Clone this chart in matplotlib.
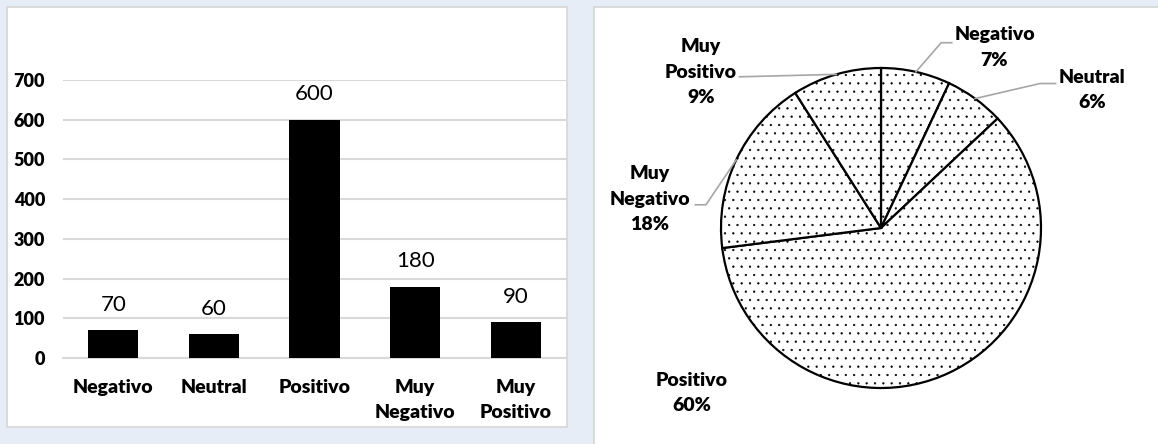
import numpy as np
import matplotlib
matplotlib.use('Agg')
from matplotlib import pyplot as plt
from matplotlib.patches import Rectangle

plt.rcParams['font.family'] = ['Lato', 'DejaVu Sans']
plt.rcParams['hatch.linewidth'] = 0.4

# data
categories = ['Negativo', 'Neutral', 'Positivo', 'Muy\nNegativo', 'Muy\nPositivo']
counts = [70, 60, 600, 180, 90]
yticks = [0, 100, 200, 300, 400, 500, 600, 700]

pie_names = ['Negativo', 'Neutral', 'Positivo', 'Muy\nNegativo', 'Muy\nPositivo']

W, H = 1158, 444
fig = plt.figure(figsize=(W / 100, H / 100), dpi=100, facecolor='#e6edf6')

# white panels (behind the axes)
fig.patches.append(Rectangle((7 / W, 1 - 427 / H), 560 / W, 420 / H, transform=fig.transFigure,
                             facecolor='white', edgecolor='#d6d6d6', lw=1.2, zorder=-5))
fig.patches.append(Rectangle((594 / W, -0.01), 570 / W, (444 - 7) / H + 0.01, transform=fig.transFigure,
                             facecolor='white', edgecolor='#d6d6d6', lw=1.2, zorder=-5))

# ---- bar chart ----
ax = fig.add_axes([63 / W, 1 - 358 / H, 503 / W, 278 / H])
ax.set_facecolor('none')
x = np.arange(len(categories))
bars = ax.bar(x, counts, width=0.5, color='black', zorder=3)
ax.set_xlim(-0.5, len(categories) - 0.5)
ax.set_ylim(0, 700)
ax.set_yticks(yticks)
ax.set_yticklabels([str(t) for t in yticks], fontsize=13, fontweight='heavy')
ax.set_xticks(x)
ax.set_xticklabels(categories, fontsize=14, fontweight='heavy', linespacing=1.6)
ax.tick_params(length=0, pad=13)
ax.tick_params(axis='x', pad=15)
ax.grid(axis='y', color='#d9d9d9', lw=1.5, zorder=0)
for s in ['top', 'right', 'left']:
    ax.spines[s].set_visible(False)
ax.spines['bottom'].set_color('#d9d9d9')
ax.spines['bottom'].set_linewidth(1.5)
for b, v in zip(bars, counts):
    ax.annotate(str(v), (b.get_x() + b.get_width() / 2, v), xytext=(0, 11),
                textcoords='offset points', ha='center', va='bottom', fontsize=16)

# ---- pie chart ----
R = 165
cx, cy = 881, 228
half = 200
pax = fig.add_axes([(cx - half) / W, 1 - (cy + half) / H, 2 * half / W, 2 * half / H])
pax.set_xlim(-half / R, half / R)
pax.set_ylim(-half / R, half / R)
pax.set_aspect('equal')
pax.axis('off')

wedges, _ = pax.pie(counts, startangle=90, counterclock=False, radius=1.0,
                    colors=['white'] * len(counts),
                    wedgeprops=dict(edgecolor='black', linewidth=1.6, hatch='..'))

total = sum(counts)
# label centres and leader-line elbows (pie units)
label_pos = [(0.709, 1.127), (1.321, 0.864), (-1.182, -1.033), (-1.445, 0.179), (-1.127, 0.973)]
leaders = [
    [(0.376, 1.158), (0.442, 1.158)],
    [(0.994, 0.903), (1.091, 0.903)],
    None,
    [(-1.094, 0.145), (-1.16, 0.145)],
    [(-0.885, 0.945)],
]
for w, v, name, pos, ld in zip(wedges, counts, pie_names, label_pos, leaders):
    pct = '%d%%' % round(100 * v / total)
    pax.text(pos[0], pos[1], name + '\n' + pct, ha='center', va='center',
             fontsize=14, fontweight='heavy', linespacing=1.6, clip_on=False)
    if ld is not None:
        ang = np.deg2rad((w.theta1 + w.theta2) / 2)
        pts = [(np.cos(ang), np.sin(ang))] + ld
        xs, ys = zip(*pts)
        pax.plot(xs, ys, color='#a6a6a6', lw=1.2, clip_on=False)

fig.savefig('out.png', dpi=100, facecolor=fig.get_facecolor())
